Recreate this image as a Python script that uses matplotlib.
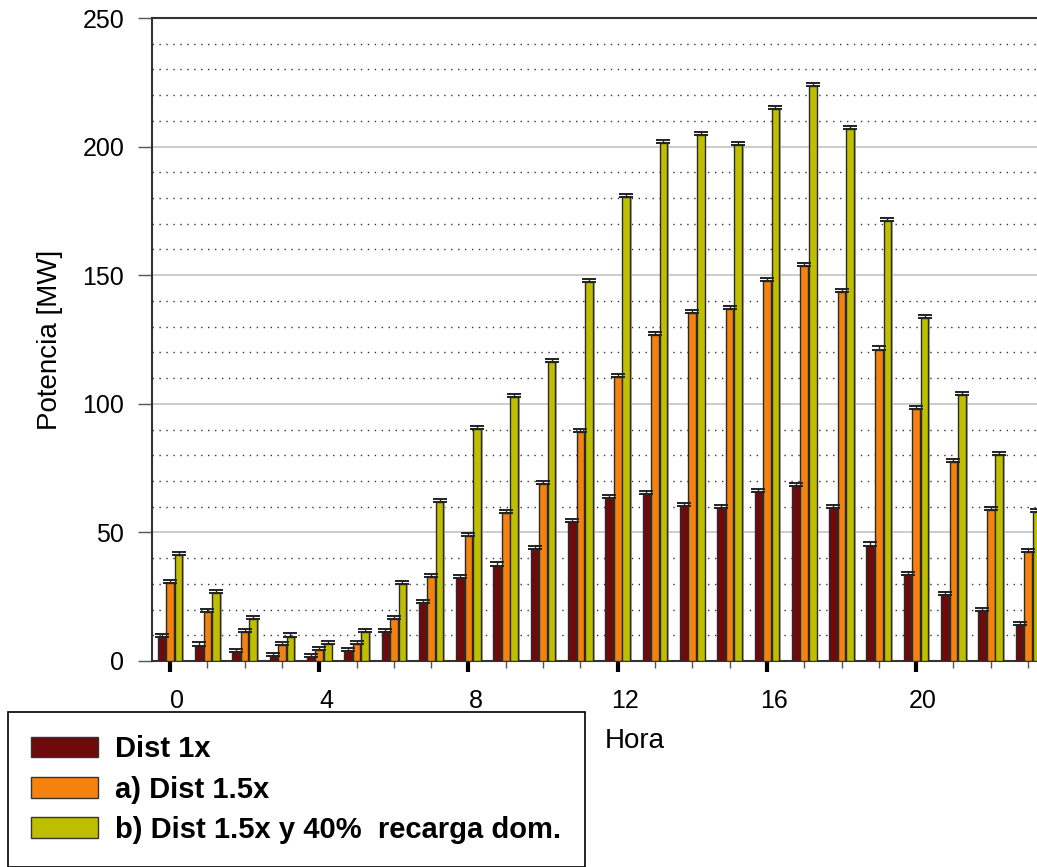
import matplotlib
matplotlib.use("Agg")
import matplotlib.pyplot as plt
import matplotlib.transforms as mtransforms
from matplotlib.ticker import MultipleLocator
import numpy as np

hours = list(range(24))
dist_1x = [9.2, 6.0, 3.6, 2.1, 1.4, 4.0, 11.2, 22.4, 32.1, 37.1, 43.5, 54.2,
           63.3, 64.9, 60.3, 59.5, 65.6, 68.0, 59.5, 44.9, 33.3, 25.8, 19.5, 13.9]
dist_15x = [30.4, 19.2, 11.2, 6.3, 4.3, 6.6, 16.2, 32.5, 48.7, 57.7, 68.8, 88.9,
            110.5, 126.7, 135.2, 136.8, 147.8, 153.5, 143.3, 121.1, 98.0, 77.3, 58.8, 42.2]
dist_15x_rec = [41.2, 26.3, 16.2, 9.5, 6.6, 11.4, 29.9, 61.9, 90.1, 102.5, 116.4, 147.5,
                180.5, 201.3, 204.5, 200.6, 214.6, 223.4, 206.9, 170.9, 133.5, 103.4, 79.9, 58.0]
err_up = 1.2
labels = ["Dist 1x", "a) Dist 1.5x", "b) Dist 1.5x y 40%  recarga dom."]
colors = ["#6e0a0a", "#f5820f", "#bfbf00"]
xtick_labels = ["0", "4", "8", "12", "16", "20"]

plt.rcParams['font.family'] = ['Liberation Sans', 'DejaVu Sans']

W, H = 1037, 867
fig = plt.figure(figsize=(W / 100, H / 100), dpi=100)
ax = fig.add_axes([152 / W, 1 - 661 / H, (W - 152) / W, (661 - 18) / H])

x = np.array(hours, dtype=float)
step = 0.228
width = 0.205
series = [dist_1x, dist_15x, dist_15x_rec]
handles = []
for i, (vals, col) in enumerate(zip(series, colors)):
    pos = x + (i - 1) * step
    # shadow
    ax.bar(pos + 0.05, vals, width=width, color="#b8b0a8", edgecolor="none", zorder=2)
    b = ax.bar(pos, vals, width=width, color=col, edgecolor="#2a2a2a", linewidth=1.0,
               zorder=3, label=labels[i])
    ax.errorbar(pos, vals, yerr=[np.zeros(len(vals)), np.full(len(vals), err_up)],
                fmt="none", ecolor="#222222", elinewidth=1.0, capsize=5, capthick=1.4, zorder=4)
    handles.append(b)

ax.set_xlim(-0.483, 23.24)
ax.set_ylim(0, 250)

ax.yaxis.set_major_locator(MultipleLocator(50))
ax.yaxis.set_minor_locator(MultipleLocator(10))
ax.grid(which="major", axis="y", color="#c4c4c4", linewidth=1.2, linestyle="-", zorder=0)
ax.grid(which="minor", axis="y", color="#333333", linewidth=1.0, linestyle=(0, (1, 4)), zorder=0)
ax.set_axisbelow(True)

ax.set_xticks([0, 4, 8, 12, 16, 20])
ax.set_xticklabels(xtick_labels)
ax.set_xticks(hours, minor=True)
ax.tick_params(axis="x", which="major", length=8, width=3, color="black", labelsize=18, pad=12)
ax.tick_params(axis="x", which="minor", length=5, width=1, color="#555555")
ax.tick_params(axis="y", which="major", length=10, width=1, color="#555555", labelsize=18, pad=10)
ax.tick_params(axis="y", which="minor", length=0)
offset = mtransforms.ScaledTranslation(7 / 100, 0, fig.dpi_scale_trans)
for lab in ax.get_xticklabels():
    lab.set_transform(lab.get_transform() + offset)

for s in ["left", "bottom", "top"]:
    ax.spines[s].set_color("#333333")
    ax.spines[s].set_linewidth(1.5)
ax.spines["right"].set_visible(False)

ax.set_ylabel("Potencia [MW]", fontsize=20, labelpad=14)
ax.set_xlabel("Hora", fontsize=20)
ax.xaxis.set_label_coords((635 - 152) / (W - 152), -(728 - 661) / (661 - 18))

leg = fig.legend(handles=handles, labels=labels, loc="upper left",
                 bbox_to_anchor=(8 / W, 1 - 712 / H), bbox_transform=fig.transFigure,
                 prop={"weight": "bold", "size": 21},
                 frameon=True, fancybox=False, framealpha=1, edgecolor="black",
                 handlelength=2.3, handleheight=0.7, handletextpad=0.58,
                 labelspacing=0.42, borderpad=0.8, borderaxespad=0)
leg.get_frame().set_linewidth(1.2)
for hnd in leg.legend_handles:
    hnd.set_edgecolor("#333333")
    hnd.set_linewidth(1.0)

fig.savefig("out.png", dpi=100)
